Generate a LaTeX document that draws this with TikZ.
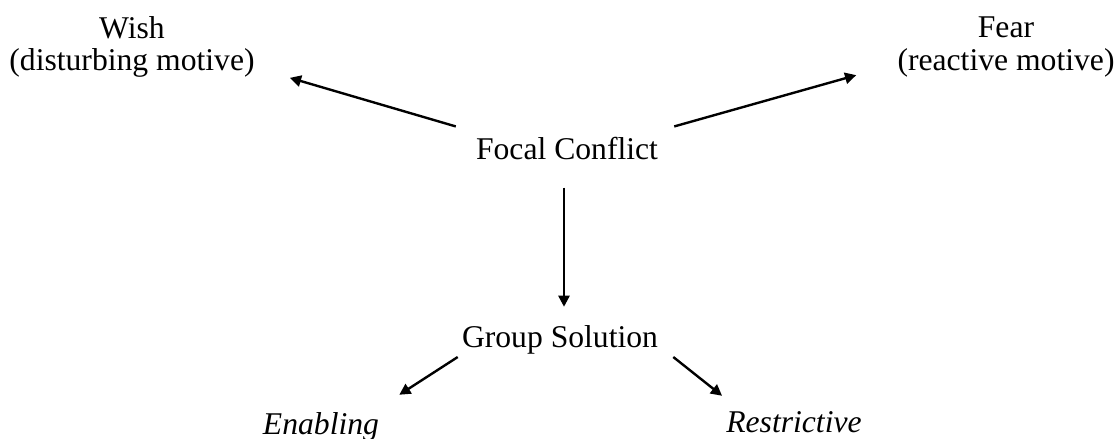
\documentclass[tikz,border=0pt]{standalone}
\usepackage{fontspec}
\setmainfont{Liberation Serif}
\usetikzlibrary{arrows.meta}
\begin{document}
\begin{tikzpicture}[x=0.025cm,y=-0.025cm,
                        motive/.style={inner sep=0pt,align=center,font=\fontsize{22.5}{23}\selectfont},
                        topic/.style={inner sep=0pt,anchor=base,font=\fontsize{22.5}{23}\selectfont},
                        outcome/.style={topic,font=\fontsize{22.5}{23}\selectfont\itshape},
                        pointer/.style={line width=1.7pt,-{Triangle[length=0.28cm,width=0.28cm]}}
                        ]
                        \useasboundingbox (0,0) rectangle (1119,439);
                        %Konflikt in der Mitte
                        \node [topic] (focal) at (567,160) {Focal Conflict};
                        %Motive oben
                        \node [motive] (wish) at (132,47) {Wish\\(disturbing motive)};
                        \node [motive] (fear) at (1006,47) {Fear\\(reactive motive)};
                        \draw [pointer] ([shift={(-20,-11)}]focal.north west) -- ([shift={(35,0)}]wish.south east);
                        \draw [pointer] ([shift={(16,-11)}]focal.north east) -- ([shift={(-41,-2)}]fear.south west);
                        %Loesung der Gruppe
                        \node [topic] (group) at (560,347) {Group Solution};
                        \draw [pointer] ([shift={(-3,27)}]focal.south) -- ([shift={(4,-18)}]group.north);
                        %Arten von Loesungen
                        \node [outcome] (enabling) at (321,434) {Enabling};
                        \node [outcome] (restrictive) at (794,432) {Restrictive};
                        \draw [pointer] ([shift={(-4,3)}]group.south west) -- ([shift={(20,-17)}]enabling.north east);
                        \draw [pointer] ([shift={(15,3)}]group.south east) -- ([shift={(-4,-15)}]restrictive.north west);
                \end{tikzpicture}
\end{document}
